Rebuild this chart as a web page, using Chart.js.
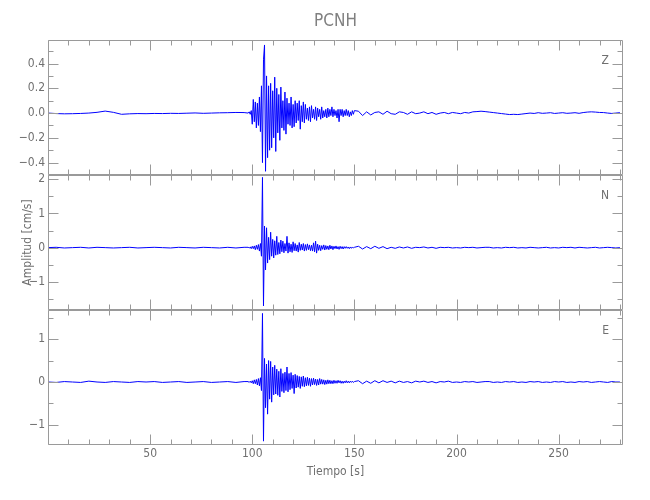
<!DOCTYPE html>
<html>
<head>
<meta charset="utf-8">
<title>PCNH</title>
<script src="https://cdn.jsdelivr.net/npm/chart.js@4.4.1/dist/chart.umd.min.js"></script>
<style>
  body { margin: 0; background: #fff; }
  #wrap { position: relative; width: 650px; height: 500px; }
  #wrap canvas { position: absolute; left: 0; top: 0; }
  #titulo {
    position: absolute; left: 48px; top: 8px; width: 575px;
    text-align: center; line-height: 24px; font-size: 17px; color: #808080;
    font-family: 'DejaVu Sans Condensed', 'Liberation Sans Narrow', sans-serif;
    font-stretch: condensed;
    z-index: 5;
  }
</style>
</head>
<body>
<div id="wrap">
  <canvas id="chartZ" width="650" height="500"></canvas>
  <canvas id="chartN" width="650" height="500"></canvas>
  <canvas id="chartE" width="650" height="500"></canvas>
  <div id="titulo">PCNH</div>
</div>
<script>
// Estación y componentes
const estacion = "PCNH";
const componentes = ["Z", "N", "E"];

// Muestreo (s): tramo previo, tramo del evento y tramo posterior
const tramoPrevio = { inicio: 0, fin: 96, paso: 4 };
const tramoEvento = { inicio: 98, fin: 150, paso: 0.5 };
const tramoPosterior = { inicio: 152, fin: 280, paso: 2 };

// Componente Z (cm/s)
const zPrevio = [0.000, -0.004, -0.006, -0.005, -0.003, 0.000, 0.006, 0.016, 0.006, -0.010,
  -0.006, -0.004, -0.005, -0.003, -0.004, -0.002, -0.003, -0.001, 0.001, -0.002,
  0.000, 0.002, 0.003, 0.005, 0.004];
const zEvento = [
  0.00, 0.01, -0.01, 0.02, -0.09, 0.11, -0.07, 0.09, -0.12, 0.08,
  -0.10, 0.13, -0.15, 0.22, -0.40, 0.43, 0.55, -0.47, 0.30, -0.36,
  0.22, -0.30, 0.24, -0.28, 0.18, -0.20, 0.29, -0.31, 0.20, -0.16,
  0.15, -0.22, 0.21, -0.12, 0.10, -0.14, 0.17, -0.17, 0.12, -0.09,
  0.08, -0.10, 0.13, -0.12, 0.07, -0.11, 0.10, -0.08, 0.08, -0.06,
  0.10, -0.13, 0.06, -0.07, 0.09, -0.08, 0.07, -0.05, 0.04, -0.06,
  0.05, -0.07, 0.06, -0.04, 0.03, -0.05, 0.05, -0.06, 0.04, -0.03,
  0.03, -0.05, 0.05, -0.04, 0.02, -0.03, 0.03, -0.04, 0.04, -0.03,
  0.03, -0.02, 0.05, -0.03, 0.03, -0.02, 0.02, -0.04, 0.03, -0.07,
  0.03, -0.02, 0.03, -0.03, 0.02, -0.02, 0.03, -0.02, 0.02, -0.03,
  0.01, -0.02, 0.02, -0.01, 0.02];
const zPosterior = [
  0.015, -0.02, 0.01, -0.015, 0.005, 0.01, -0.01, 0.015, -0.005, -0.01,
  0.01, 0.005, -0.01, 0.01, -0.005, 0.00, 0.01, -0.005, 0.005, -0.01,
  0.00, 0.005, -0.005, 0.005, 0.00, -0.005, 0.005, 0.00, 0.01, 0.012,
  0.015, 0.012, 0.008, 0.004, 0.00, -0.004, -0.008, -0.012, -0.01, -0.012,
  -0.008, -0.004, 0.00, -0.003, 0.003, -0.002, 0.00, 0.003, -0.003, 0.00,
  0.003, -0.002, 0.00, 0.003, -0.002, 0.004, 0.008, 0.01, 0.008, 0.005,
  0.004, 0.00, -0.003, 0.00, 0.003];

// Componente N (cm/s)
const nPrevio = [0.00, 0.01, -0.01, 0.00, 0.01, -0.01, 0.01, 0.00, -0.01, 0.00,
  0.01, -0.01, 0.00, 0.01, 0.00, -0.01, 0.01, 0.00, -0.01, 0.01,
  0.00, -0.01, 0.01, -0.01, 0.01];
const nEvento = [
  0.01, -0.01, 0.02, -0.03, 0.04, -0.03, 0.05, -0.06, 0.07, -0.05,
  0.09, -0.10, 0.12, -0.25, 2.05, -1.70, 0.63, -0.65, 0.58, -0.45,
  0.30, -0.35, 0.45, -0.25, 0.24, -0.30, 0.20, -0.22, 0.33, -0.20,
  0.15, -0.18, 0.22, -0.12, 0.19, -0.15, 0.12, -0.10, 0.33, -0.16,
  0.14, -0.12, 0.10, -0.14, 0.17, -0.09, 0.12, -0.10, 0.08, -0.13,
  0.15, -0.08, 0.10, -0.07, 0.12, -0.10, 0.09, -0.08, 0.11, -0.06,
  0.08, -0.09, 0.07, -0.10, 0.14, -0.12, 0.19, -0.16, 0.10, -0.08,
  0.07, -0.09, 0.06, -0.05, 0.08, -0.07, 0.06, -0.05, 0.05, -0.06,
  0.07, -0.04, 0.05, -0.06, 0.04, -0.03, 0.05, -0.04, 0.03, -0.05,
  0.04, -0.03, 0.03, -0.04, 0.03, -0.02, 0.03, -0.02, 0.02, -0.03,
  0.02, -0.02, 0.02, -0.01, 0.01];
const nPosterior = [
  0.04, -0.04, 0.03, -0.03, 0.04, -0.02, 0.03, -0.03, 0.01, -0.02,
  0.02, -0.01, 0.02, -0.02, 0.01, 0.00, 0.02, -0.01, 0.01, -0.02,
  0.01, 0.00, 0.01, -0.01, 0.00, -0.01, 0.01, 0.00, 0.01, -0.01,
  0.00, 0.01, 0.01, -0.01, 0.00, -0.01, 0.01, 0.00, 0.01, -0.01,
  0.00, -0.01, 0.01, 0.00, -0.01, 0.00, 0.01, -0.01, 0.00, -0.01,
  0.01, 0.00, 0.01, -0.01, 0.01, 0.00, -0.01, 0.00, 0.01, -0.01,
  0.00, 0.01, 0.00, -0.01, 0.00];

// Componente E (cm/s)
const ePrevio = [0.00, -0.01, 0.01, 0.00, -0.01, 0.02, 0.00, -0.01, 0.01, 0.00,
  -0.01, 0.01, 0.00, 0.01, -0.01, 0.00, 0.01, -0.01, 0.00, 0.01,
  -0.01, 0.00, 0.01, -0.01, 0.01];
const eEvento = [
  0.01, -0.01, 0.02, -0.02, 0.03, -0.04, 0.05, -0.04, 0.06, -0.07,
  0.08, -0.09, 0.10, -0.20, 1.60, -1.38, 0.55, -0.60, 0.42, -0.75,
  0.50, -0.40, 0.48, -0.47, 0.35, -0.30, 0.39, -0.28, 0.30, -0.31,
  0.25, -0.35, 0.31, -0.22, 0.20, -0.25, 0.23, -0.20, 0.35, -0.23,
  0.20, -0.18, 0.22, -0.15, 0.16, -0.27, 0.18, -0.14, 0.15, -0.12,
  0.13, -0.15, 0.12, -0.10, 0.14, -0.11, 0.10, -0.09, 0.11, -0.08,
  0.09, -0.10, 0.08, -0.07, 0.09, -0.06, 0.07, -0.08, 0.06, -0.07,
  0.08, -0.05, 0.06, -0.05, 0.05, -0.06, 0.04, -0.05, 0.05, -0.04,
  0.04, -0.04, 0.03, -0.04, 0.04, -0.03, 0.03, -0.03, 0.04, -0.02,
  0.03, -0.03, 0.02, -0.03, 0.02, -0.02, 0.03, -0.02, 0.02, -0.02,
  0.02, -0.01, 0.02, -0.01, 0.01];
const ePosterior = [
  0.03, -0.04, 0.02, -0.03, 0.03, -0.02, 0.03, -0.01, 0.02, -0.02,
  0.02, -0.01, 0.01, -0.02, 0.02, 0.00, 0.02, -0.01, 0.01, -0.02,
  0.01, 0.00, 0.02, -0.01, 0.00, -0.01, 0.01, 0.00, 0.01, -0.01,
  0.00, 0.01, 0.01, -0.01, 0.00, -0.01, 0.01, 0.00, 0.01, -0.01,
  0.00, -0.01, 0.01, 0.00, 0.01, -0.01, 0.00, -0.01, 0.01, 0.00,
  0.01, -0.01, 0.00, -0.01, 0.01, 0.00, 0.01, -0.01, 0.00, 0.01,
  0.00, -0.01, 0.01, 0.00, 0.00];

// Marcas de los ejes
const xEtiquetas = [50, 100, 150, 200, 250];
const zEtiquetas = [-0.4, -0.2, 0, 0.2, 0.4];
const zMenores = [-0.5, -0.3, -0.1, 0.1, 0.3, 0.5];
const nEtiquetas = [-1, 0, 1, 2];
const nMenores = [-1.5, -0.5, 0.5, 1.5];
const eEtiquetas = [-1, 0, 1];
const eMenores = [-0.5, 0.5, 1.5];

const fuente = "'DejaVu Sans Condensed', 'Liberation Sans Narrow', sans-serif";
const colorTexto = '#707070';
const colorEje = '#9a9a9a';
const colorTraza = 'rgb(0, 0, 255)';

// Tiempos de un tramo a partir de su muestreo
function tiempos(tramo) {
    const t = [];
    const n = Math.round((tramo.fin - tramo.inicio) / tramo.paso);
    for (let i = 0; i <= n; i++) t.push(tramo.inicio + i * tramo.paso);
    return t;
}

function serie(previo, evento, posterior) {
    const puntos = [];
    [[tramoPrevio, previo], [tramoEvento, evento], [tramoPosterior, posterior]].forEach(([tramo, valores]) => {
        tiempos(tramo).forEach((t, i) => puntos.push({ x: t, y: valores[i] }));
    });
    return puntos;
}

// Marco con marcas hacia dentro (estilo IDL) y letra de la componente
const marco = {
    id: 'marco',
    afterDatasetsDraw(chart, args, opts) {
        const { ctx, chartArea: a, scales: { x, y } } = chart;
        const l = Math.round(a.left) + 0.5, r = Math.round(a.right) - 0.5;
        const t = Math.round(a.top) + 0.5, b = Math.round(a.bottom) - 0.5;
        ctx.save();
        ctx.strokeStyle = colorEje;
        ctx.lineWidth = 1;
        ctx.beginPath();
        ctx.rect(l, t, r - l, b - t);
        for (let v = 0; v <= x.max; v += 10) {
            const px = Math.round(x.getPixelForValue(v)) + 0.5;
            const len = v % 50 === 0 ? 10 : 5;
            ctx.moveTo(px, t); ctx.lineTo(px, t + len);
            ctx.moveTo(px, b); ctx.lineTo(px, b - len);
        }
        const marcas = opts.mayores.map(v => [v, 10]).concat(opts.menores.map(v => [v, 5]));
        marcas.forEach(([v, len]) => {
            const py = Math.round(y.getPixelForValue(v)) + 0.5;
            ctx.moveTo(l, py); ctx.lineTo(l + len, py);
            ctx.moveTo(r, py); ctx.lineTo(r - len, py);
        });
        ctx.stroke();
        ctx.fillStyle = colorTexto;
        ctx.font = '12px ' + fuente;
        ctx.textAlign = 'right';
        ctx.textBaseline = 'middle';
        ctx.fillText(opts.letra, a.right - 14, a.top + 21);
        ctx.restore();
    }
};

function formato(dec) {
    return v => {
        const s = Math.abs(v).toFixed(dec);
        return v < 0 ? '\u2212' + s : s;
    };
}

function crearPanel(id, datos, cfg) {
    const ctx = document.getElementById(id).getContext('2d');
    return new Chart(ctx, {
        type: 'line',
        data: {
            datasets: [{
                data: datos,
                borderColor: colorTraza,
                borderWidth: 1,
                pointRadius: 0,
                tension: 0,
                fill: false
            }]
        },
        options: {
            responsive: false,
            animation: false,
            events: [],
            layout: { padding: { left: 0, right: 27, top: cfg.arriba, bottom: cfg.abajo } },
            plugins: {
                legend: { display: false },
                tooltip: { enabled: false },
                marco: { letra: cfg.letra, mayores: cfg.etiquetas, menores: cfg.menores }
            },
            scales: {
                x: {
                    type: 'linear',
                    min: 0,
                    max: 281.5,
                    display: cfg.ejeX,
                    grid: { display: false, drawTicks: false },
                    border: { display: false },
                    afterBuildTicks: s => { s.ticks = xEtiquetas.map(v => ({ value: v })); },
                    afterFit: s => { s.height = cfg.ejeX ? 55 : 0; },
                    ticks: {
                        padding: 2,
                        color: colorTexto,
                        font: { family: fuente, size: 12 },
                        maxRotation: 0,
                        callback: v => String(v)
                    },
                    title: {
                        display: true,
                        text: 'Tiempo [s]',
                        color: colorTexto,
                        font: { family: fuente, size: 12 },
                        padding: { top: 0, bottom: 21 }
                    }
                },
                y: {
                    type: 'linear',
                    min: cfg.min,
                    max: cfg.max,
                    grid: { display: false, drawTicks: false },
                    border: { display: false },
                    afterBuildTicks: s => { s.ticks = cfg.etiquetas.map(v => ({ value: v })); },
                    afterFit: s => { s.width = 48; },
                    ticks: {
                        padding: 3,
                        color: colorTexto,
                        font: { family: fuente, size: 12 },
                        callback: formato(cfg.decimales)
                    },
                    title: {
                        display: cfg.tituloY,
                        text: 'Amplitud [cm/s]',
                        color: colorTexto,
                        font: { family: fuente, size: 12 },
                        padding: { top: 21, bottom: 0 }
                    }
                }
            }
        },
        plugins: [marco]
    });
}

crearPanel('chartZ', serie(zPrevio, zEvento, zPosterior), {
    letra: componentes[0], arriba: 40, abajo: 325, ejeX: false, tituloY: false,
    min: -0.5, max: 0.59, etiquetas: zEtiquetas, menores: zMenores, decimales: 1
});
crearPanel('chartN', serie(nPrevio, nEvento, nPosterior), {
    letra: componentes[1], arriba: 175, abajo: 190, ejeX: false, tituloY: true,
    min: -1.82, max: 2.12, etiquetas: nEtiquetas, menores: nMenores, decimales: 0
});
crearPanel('chartE', serie(ePrevio, eEvento, ePosterior), {
    letra: componentes[2], arriba: 310, abajo: 0, ejeX: true, tituloY: false,
    min: -1.47, max: 1.68, etiquetas: eEtiquetas, menores: eMenores, decimales: 0
});
</script>
</body>
</html>
